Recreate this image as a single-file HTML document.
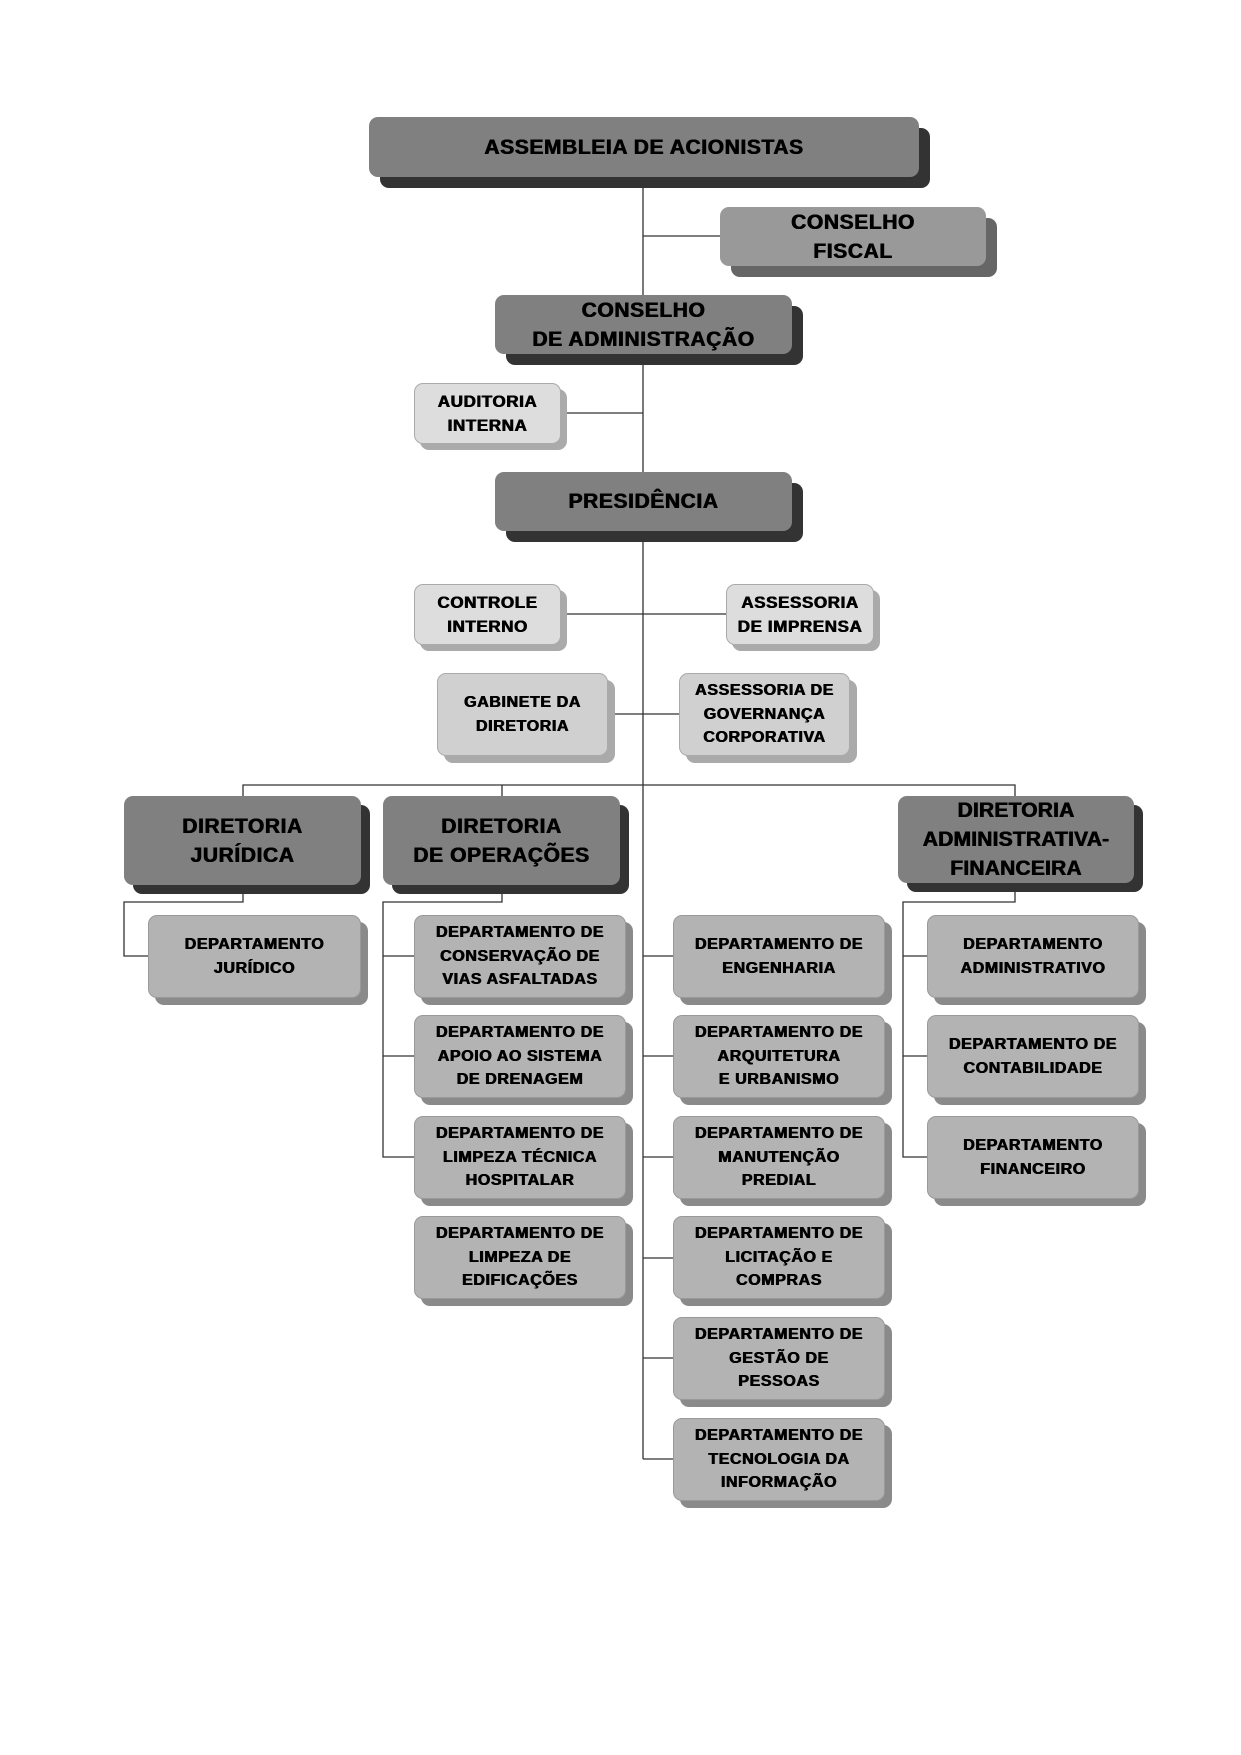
<!DOCTYPE html>
<html><head><meta charset="utf-8"><style>
body{margin:0;width:1241px;height:1755px;background:#fff;position:relative;overflow:hidden;font-family:"Liberation Sans",sans-serif}
.b{position:absolute;border-radius:9px;display:flex;align-items:center;justify-content:center;text-align:center;font-weight:bold;color:#000;box-sizing:border-box;letter-spacing:0.6px;text-shadow:0.5px 0 0 #000,-0.3px 0 0 #000}
.s{position:absolute;border-radius:9px}
.d{background:#808080}.ds{background:#333}
.m{background:#999}.ms{background:#666}
.l{background:#ddd;border:1px solid #aaa}.ls{background:#aaa}
.g{background:#d0d0d0;border:1px solid #aaa}.gs{background:#aaa}
.p{background:#b3b3b3;border:1px solid #999}.ps{background:#8a8a8a}
.big{font-size:21px;line-height:29px}
.med{font-size:17px;line-height:24px}
.sm{font-size:16px;line-height:23.5px}
svg{position:absolute;left:0;top:0}
</style></head><body>
<svg width="1241" height="1755"><g stroke="#333" stroke-width="1.3" fill="none">
<path d="M643 177V1459"/>
<path d="M643 236H720"/>
<path d="M561 413H643"/>
<path d="M561 614H726"/>
<path d="M608 714H679"/>
<path d="M243 796V785H1015V796"/>
<path d="M502 785V796"/>
<path d="M243 885V902H124V956H148"/>
<path d="M502 885V902H383V1157H414M383 956H414M383 1056H414"/>
<path d="M643 956H673M643 1056H673M643 1157H673M643 1258H673M643 1358H673M643 1459H673"/>
<path d="M1015 883V902H903V1157H927M903 956H927M903 1056H927"/>
</g></svg>

<div class="s ds" style="left:380px;top:128px;width:550px;height:60px"></div>
<div class="b d big" style="left:369px;top:117px;width:550px;height:60px">ASSEMBLEIA DE ACIONISTAS</div>

<div class="s ms" style="left:731px;top:218px;width:266px;height:59px"></div>
<div class="b m big" style="left:720px;top:207px;width:266px;height:59px">CONSELHO<br>FISCAL</div>

<div class="s ds" style="left:506px;top:306px;width:297px;height:59px"></div>
<div class="b d big" style="left:495px;top:295px;width:297px;height:59px">CONSELHO<br>DE ADMINISTRAÇÃO</div>

<div class="s ls" style="left:420px;top:389px;width:147px;height:61px"></div>
<div class="b l med" style="left:414px;top:383px;width:147px;height:61px">AUDITORIA<br>INTERNA</div>

<div class="s ds" style="left:506px;top:483px;width:297px;height:59px"></div>
<div class="b d big" style="left:495px;top:472px;width:297px;height:59px">PRESIDÊNCIA</div>

<div class="s ls" style="left:420px;top:590px;width:147px;height:61px"></div>
<div class="b l med" style="left:414px;top:584px;width:147px;height:61px">CONTROLE<br>INTERNO</div>

<div class="s ls" style="left:732px;top:590px;width:148px;height:61px"></div>
<div class="b l med" style="left:726px;top:584px;width:148px;height:61px">ASSESSORIA<br>DE IMPRENSA</div>

<div class="s gs" style="left:444px;top:680px;width:171px;height:83px"></div>
<div class="b g sm" style="left:437px;top:673px;width:171px;height:83px">GABINETE DA<br>DIRETORIA</div>

<div class="s gs" style="left:686px;top:680px;width:171px;height:83px"></div>
<div class="b g sm" style="left:679px;top:673px;width:171px;height:83px">ASSESSORIA DE<br>GOVERNANÇA<br>CORPORATIVA</div>

<div class="s ds" style="left:133px;top:805px;width:237px;height:89px"></div>
<div class="b d big" style="left:124px;top:796px;width:237px;height:89px">DIRETORIA<br>JURÍDICA</div>

<div class="s ds" style="left:392px;top:805px;width:237px;height:89px"></div>
<div class="b d big" style="left:383px;top:796px;width:237px;height:89px">DIRETORIA<br>DE OPERAÇÕES</div>

<div class="s ds" style="left:907px;top:805px;width:236px;height:87px"></div>
<div class="b d big" style="left:898px;top:796px;width:236px;height:87px;letter-spacing:0.2px">DIRETORIA<br>ADMINISTRATIVA-<br>FINANCEIRA</div>

<div class="s ps" style="left:155px;top:922px;width:213px;height:83px"></div>
<div class="b p sm" style="left:148px;top:915px;width:213px;height:83px">DEPARTAMENTO<br>JURÍDICO</div>

<div class="s ps" style="left:421px;top:922px;width:212px;height:83px"></div>
<div class="b p sm" style="left:414px;top:915px;width:212px;height:83px">DEPARTAMENTO DE<br>CONSERVAÇÃO DE<br>VIAS ASFALTADAS</div>
<div class="s ps" style="left:421px;top:1022px;width:212px;height:83px"></div>
<div class="b p sm" style="left:414px;top:1015px;width:212px;height:83px">DEPARTAMENTO DE<br>APOIO AO SISTEMA<br>DE DRENAGEM</div>
<div class="s ps" style="left:421px;top:1123px;width:212px;height:83px"></div>
<div class="b p sm" style="left:414px;top:1116px;width:212px;height:83px">DEPARTAMENTO DE<br>LIMPEZA TÉCNICA<br>HOSPITALAR</div>
<div class="s ps" style="left:421px;top:1223px;width:212px;height:83px"></div>
<div class="b p sm" style="left:414px;top:1216px;width:212px;height:83px">DEPARTAMENTO DE<br>LIMPEZA DE<br>EDIFICAÇÕES</div>

<div class="s ps" style="left:680px;top:922px;width:212px;height:83px"></div>
<div class="b p sm" style="left:673px;top:915px;width:212px;height:83px">DEPARTAMENTO DE<br>ENGENHARIA</div>
<div class="s ps" style="left:680px;top:1022px;width:212px;height:83px"></div>
<div class="b p sm" style="left:673px;top:1015px;width:212px;height:83px">DEPARTAMENTO DE<br>ARQUITETURA<br>E URBANISMO</div>
<div class="s ps" style="left:680px;top:1123px;width:212px;height:83px"></div>
<div class="b p sm" style="left:673px;top:1116px;width:212px;height:83px">DEPARTAMENTO DE<br>MANUTENÇÃO<br>PREDIAL</div>
<div class="s ps" style="left:680px;top:1223px;width:212px;height:83px"></div>
<div class="b p sm" style="left:673px;top:1216px;width:212px;height:83px">DEPARTAMENTO DE<br>LICITAÇÃO E<br>COMPRAS</div>
<div class="s ps" style="left:680px;top:1324px;width:212px;height:83px"></div>
<div class="b p sm" style="left:673px;top:1317px;width:212px;height:83px">DEPARTAMENTO DE<br>GESTÃO DE<br>PESSOAS</div>
<div class="s ps" style="left:680px;top:1425px;width:212px;height:83px"></div>
<div class="b p sm" style="left:673px;top:1418px;width:212px;height:83px">DEPARTAMENTO DE<br>TECNOLOGIA DA<br>INFORMAÇÃO</div>

<div class="s ps" style="left:934px;top:922px;width:212px;height:83px"></div>
<div class="b p sm" style="left:927px;top:915px;width:212px;height:83px">DEPARTAMENTO<br>ADMINISTRATIVO</div>
<div class="s ps" style="left:934px;top:1022px;width:212px;height:83px"></div>
<div class="b p sm" style="left:927px;top:1015px;width:212px;height:83px">DEPARTAMENTO DE<br>CONTABILIDADE</div>
<div class="s ps" style="left:934px;top:1123px;width:212px;height:83px"></div>
<div class="b p sm" style="left:927px;top:1116px;width:212px;height:83px">DEPARTAMENTO<br>FINANCEIRO</div>
</body></html>
